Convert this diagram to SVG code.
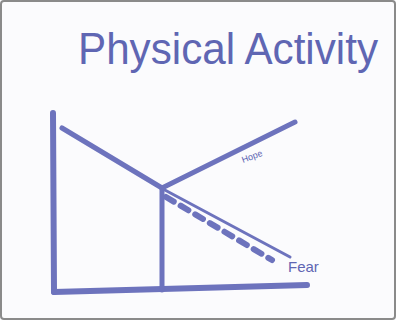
<svg xmlns="http://www.w3.org/2000/svg" width="396" height="320" viewBox="0 0 396 320">
<style>
.m{fill:none;stroke:#6d73bd;stroke-linecap:round;stroke-linejoin:round}
.t{fill:#5f66b3;font-family:"Liberation Sans",sans-serif}
</style>
<rect x="0" y="0" width="396" height="320" fill="#fbfbfd"/>
<rect x="1" y="1" width="394" height="318" rx="3" fill="none" stroke="#8a8a8a" stroke-width="2"/>
<g id="title"><text class="t" x="78" y="64" font-size="44" textLength="300" lengthAdjust="spacingAndGlyphs">Physical Activity</text></g>
<g id="connectors">
<path class="m" stroke-width="6" d="M53,113 L54,292"/>
<path class="m" stroke-width="6" d="M54,292 L307,285"/>
<path class="m" stroke-width="5" d="M62,128 L162,188"/>
<path class="m" stroke-width="5" d="M162,188 L295,122"/>
<path class="m" stroke-width="5" d="M162,188 L162,290"/>
<path class="m" stroke-width="3" d="M163,189 L290,257"/>
<path class="m" stroke-width="6" stroke-linecap="butt" stroke-dasharray="9,8" d="M166,197 L272,260"/>
</g>
<g id="hope"><text class="t" x="243" y="163" font-size="9" transform="rotate(-20 243 163)">Hope</text></g>
<g id="fear"><text class="t" x="288" y="272" font-size="15">Fear</text></g>
</svg>
